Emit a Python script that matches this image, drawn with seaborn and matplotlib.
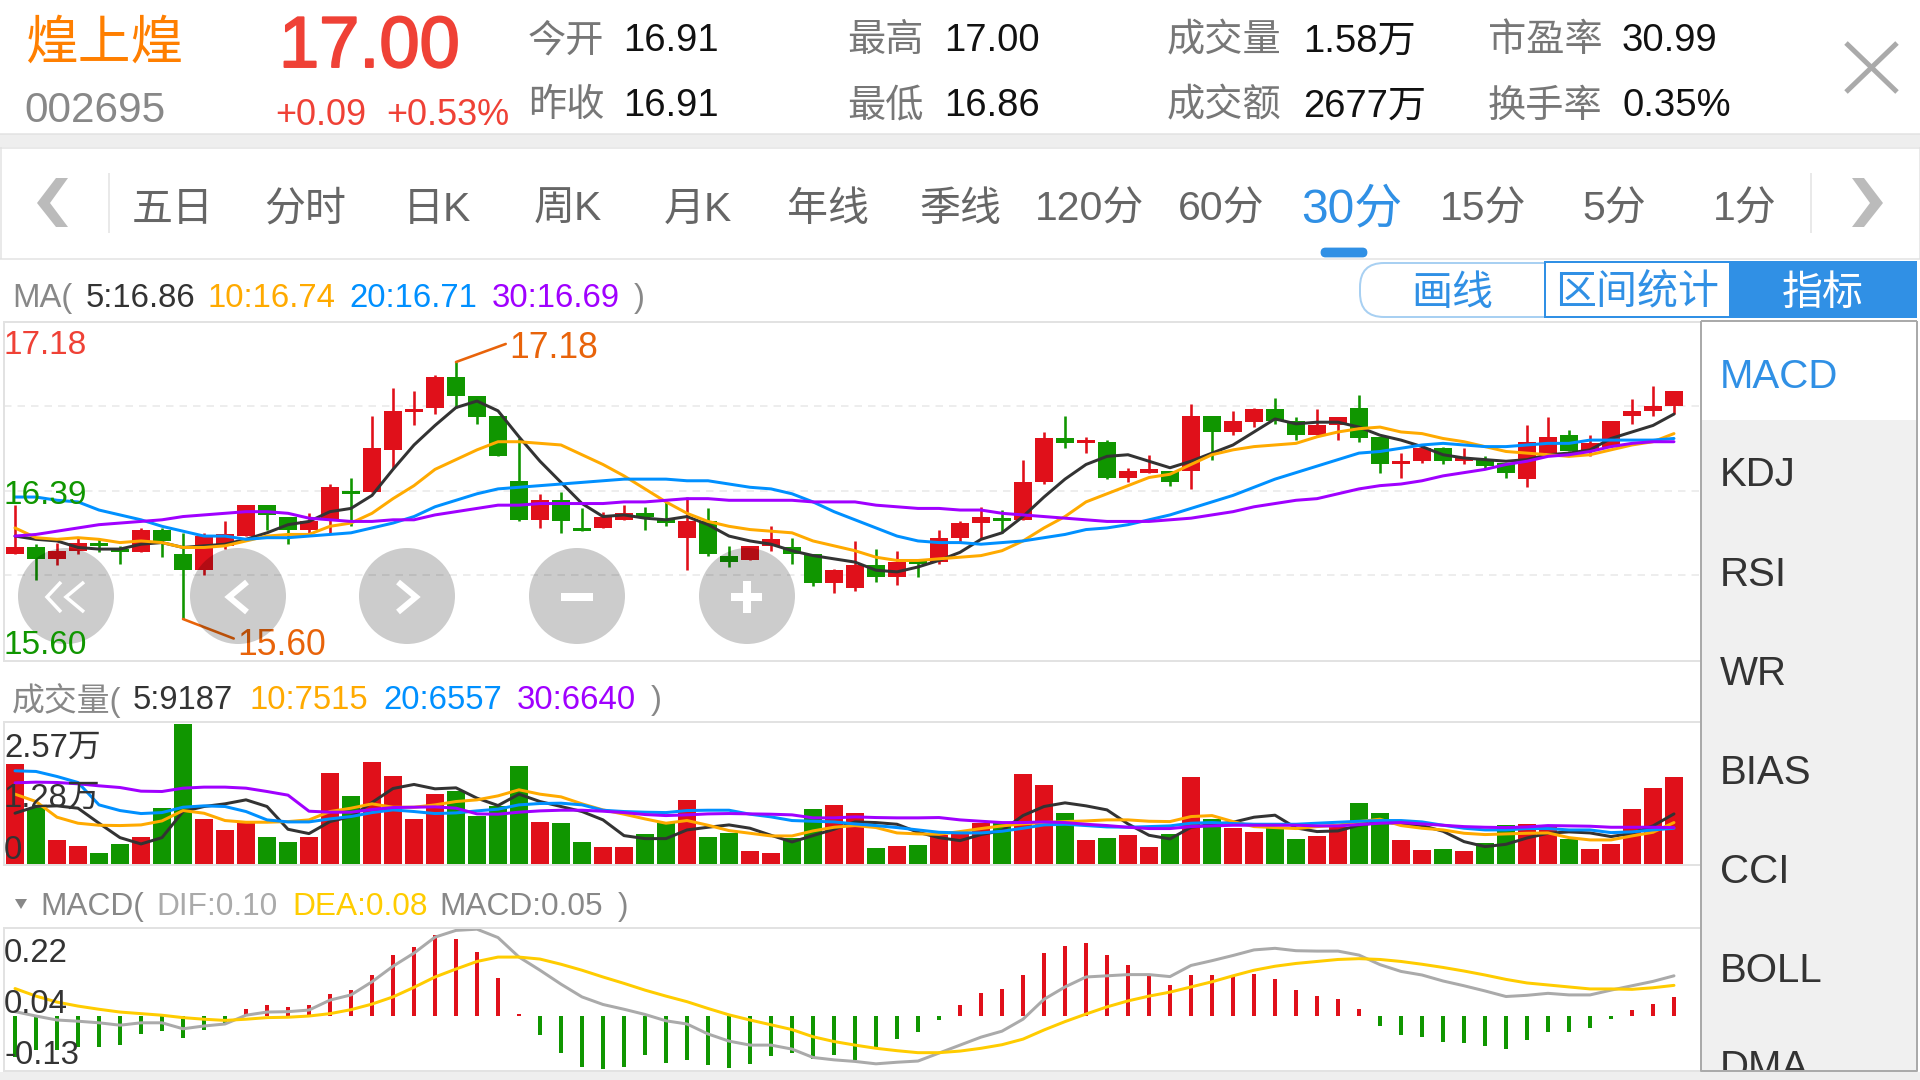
#!/usr/bin/env python
"""Stock quote screen: 30 minute candles, volume and MACD panels."""

import matplotlib
matplotlib.use("Agg")
import matplotlib.patheffects as pe
import matplotlib.pyplot as plt
from matplotlib.patches import Circle, FancyBboxPatch, Rectangle
import numpy as np
import seaborn as sns

sns.set_theme(style="white")
plt.rcParams["font.family"] = ["Liberation Sans", "Noto Sans CJK SC", "DejaVu Sans"]

W, H = 1920, 1080

# ── candles ──────────────────────────────────────────────────────────
opens = [16.00, 16.04, 15.97, 16.02, 16.07, 16.03, 16.01, 16.15, 16.00, 15.90,
         16.05, 16.11, 16.30, 16.23, 16.15, 16.21, 16.39, 16.38, 16.64, 16.87,
         16.90, 17.09, 16.97, 16.85, 16.45, 16.21, 16.33, 16.16, 16.16, 16.21,
         16.25, 16.21, 16.10, 16.20, 15.99, 15.96, 16.05, 16.04, 16.00, 15.82,
         15.79, 15.93, 15.86, 15.97, 15.95, 16.10, 16.19, 16.22, 16.21, 16.44,
         16.71, 16.68, 16.69, 16.47, 16.50, 16.51, 16.51, 16.85, 16.75, 16.81,
         16.89, 16.82, 16.73, 16.79, 16.90, 16.72, 16.55, 16.57, 16.65, 16.57,
         16.58, 16.56, 16.46, 16.62, 16.73, 16.64, 16.66, 16.85, 16.88, 16.91]
highs = [16.30, 16.06, 16.07, 16.10, 16.09, 16.05, 16.16, 16.16, 16.13, 16.13,
         16.20, 16.30, 16.30, 16.23, 16.25, 16.43, 16.47, 16.85, 17.02, 17.00,
         17.10, 17.18, 16.97, 16.85, 16.71, 16.37, 16.38, 16.28, 16.26, 16.30,
         16.29, 16.32, 16.35, 16.28, 16.05, 16.05, 16.17, 16.10, 16.00, 15.91,
         16.08, 16.03, 16.02, 15.97, 16.15, 16.20, 16.29, 16.27, 16.58, 16.75,
         16.85, 16.72, 16.70, 16.53, 16.61, 16.51, 16.92, 16.85, 16.88, 16.90,
         16.96, 16.84, 16.89, 16.84, 16.98, 16.72, 16.62, 16.67, 16.66, 16.65,
         16.60, 16.56, 16.79, 16.84, 16.76, 16.73, 16.82, 16.95, 17.03, 17.00]
lows = [16.00, 15.84, 15.93, 16.00, 16.01, 15.94, 16.01, 15.98, 15.60, 15.87,
        16.03, 16.11, 16.15, 16.06, 16.13, 16.13, 16.17, 16.38, 16.53, 16.79,
        16.86, 16.90, 16.80, 16.60, 16.20, 16.16, 16.13, 16.14, 16.16, 16.21,
        16.15, 16.17, 15.90, 15.99, 15.92, 15.96, 16.02, 15.94, 15.80, 15.76,
        15.77, 15.83, 15.81, 15.86, 15.94, 16.07, 16.10, 16.13, 16.21, 16.43,
        16.65, 16.62, 16.46, 16.44, 16.50, 16.42, 16.40, 16.58, 16.73, 16.78,
        16.80, 16.70, 16.73, 16.70, 16.69, 16.50, 16.47, 16.56, 16.55, 16.55,
        16.53, 16.47, 16.41, 16.62, 16.63, 16.60, 16.66, 16.80, 16.85, 16.86]
closes = [16.04, 15.97, 16.02, 16.07, 16.05, 16.01, 16.15, 16.08, 15.90, 16.11,
          16.12, 16.30, 16.24, 16.15, 16.20, 16.41, 16.37, 16.65, 16.88, 16.89,
          17.09, 16.97, 16.84, 16.60, 16.21, 16.33, 16.20, 16.14, 16.23, 16.25,
          16.23, 16.19, 16.20, 16.00, 15.95, 16.05, 16.09, 16.00, 15.82, 15.90,
          15.93, 15.86, 15.95, 15.94, 16.10, 16.19, 16.23, 16.20, 16.44, 16.71,
          16.68, 16.70, 16.47, 16.51, 16.52, 16.44, 16.85, 16.75, 16.82, 16.89,
          16.82, 16.73, 16.79, 16.84, 16.71, 16.55, 16.57, 16.65, 16.57, 16.59,
          16.54, 16.50, 16.69, 16.72, 16.63, 16.68, 16.82, 16.88, 16.91, 17.00]

ma5 = [16.11, 16.09, 16.08, 16.04, 16.03, 16.03, 16.06, 16.07, 16.04, 16.05,
       16.06, 16.09, 16.13, 16.18, 16.20, 16.26, 16.28, 16.36, 16.52, 16.67,
       16.79, 16.90, 16.94, 16.88, 16.72, 16.57, 16.44, 16.31, 16.23, 16.24,
       16.22, 16.21, 16.23, 16.18, 16.11, 16.08, 16.06, 16.02, 15.99, 15.97,
       15.95, 15.90, 15.89, 15.92, 15.96, 16.01, 16.09, 16.13, 16.23, 16.35,
       16.46, 16.55, 16.60, 16.61, 16.57, 16.53, 16.57, 16.62, 16.67, 16.75,
       16.83, 16.80, 16.81, 16.81, 16.78, 16.73, 16.70, 16.66, 16.61, 16.59,
       16.58, 16.57, 16.58, 16.61, 16.62, 16.64, 16.71, 16.75, 16.79, 16.86]
ma10 = [16.16, 16.10, 16.09, 16.10, 16.09, 16.07, 16.08, 16.07, 16.04, 16.04,
        16.05, 16.08, 16.11, 16.12, 16.12, 16.17, 16.19, 16.25, 16.34, 16.42,
        16.52, 16.58, 16.64, 16.69, 16.69, 16.68, 16.67, 16.61, 16.55, 16.48,
        16.40, 16.32, 16.25, 16.20, 16.17, 16.15, 16.14, 16.13, 16.08, 16.05,
        16.02, 15.98, 15.96, 15.96, 15.97, 15.98, 15.99, 16.02, 16.08, 16.16,
        16.23, 16.32, 16.37, 16.42, 16.47, 16.49, 16.55, 16.61, 16.64, 16.66,
        16.67, 16.68, 16.72, 16.75, 16.77, 16.78, 16.75, 16.74, 16.71, 16.69,
        16.66, 16.63, 16.62, 16.61, 16.60, 16.61, 16.64, 16.67, 16.69, 16.74]
ma20 = [16.35, 16.35, 16.33, 16.32, 16.27, 16.24, 16.21, 16.17, 16.14, 16.11,
        16.11, 16.09, 16.10, 16.10, 16.11, 16.12, 16.13, 16.16, 16.19, 16.23,
        16.29, 16.33, 16.37, 16.40, 16.41, 16.42, 16.43, 16.44, 16.45, 16.46,
        16.46, 16.46, 16.45, 16.45, 16.43, 16.41, 16.40, 16.37, 16.32, 16.26,
        16.21, 16.16, 16.11, 16.08, 16.07, 16.07, 16.06, 16.07, 16.08, 16.10,
        16.12, 16.15, 16.16, 16.18, 16.21, 16.24, 16.28, 16.32, 16.36, 16.41,
        16.46, 16.50, 16.54, 16.58, 16.62, 16.63, 16.65, 16.67, 16.68, 16.67,
        16.66, 16.66, 16.67, 16.68, 16.68, 16.70, 16.70, 16.70, 16.70, 16.71]
ma30 = [16.11, 16.12, 16.14, 16.16, 16.18, 16.19, 16.20, 16.21, 16.23, 16.24,
        16.25, 16.26, 16.26, 16.25, 16.22, 16.21, 16.20, 16.20, 16.21, 16.21,
        16.24, 16.26, 16.28, 16.30, 16.30, 16.31, 16.31, 16.31, 16.31, 16.32,
        16.32, 16.33, 16.34, 16.34, 16.33, 16.33, 16.33, 16.33, 16.32, 16.32,
        16.32, 16.30, 16.29, 16.28, 16.28, 16.27, 16.27, 16.25, 16.24, 16.23,
        16.22, 16.21, 16.20, 16.20, 16.20, 16.21, 16.22, 16.24, 16.26, 16.29,
        16.31, 16.33, 16.34, 16.37, 16.40, 16.42, 16.43, 16.45, 16.48, 16.50,
        16.52, 16.55, 16.57, 16.60, 16.61, 16.63, 16.66, 16.68, 16.69, 16.69]

# ── volume ───────────────────────────────────────────────────────────
volume = [18300, 10280, 4410, 3300, 2080, 3670, 4900, 10280, 25700, 8200,
          6240, 7470, 4900, 4040, 4960, 16650, 12480, 18600, 16160, 8320,
          12910, 13280, 8810, 10710, 17990, 7710, 7530, 3980, 3180, 3060,
          5450, 7590, 11750, 5020, 5750, 2390, 2020, 4710, 10160, 10830,
          9300, 2940, 3240, 3490, 5320, 5630, 7590, 7470, 16520, 14440,
          9300, 4350, 4710, 5320, 3120, 5510, 15970, 8200, 6670, 5880,
          6850, 4590, 5080, 6850, 11200, 9300, 4410, 2510, 2750, 2390,
          3790, 7160, 7280, 6850, 4590, 2750, 3670, 10100, 13950, 15850]
vol_ma5 = [9300, 10530, 10650, 10220, 7470, 4830, 3670, 4830, 9610, 10530,
           11020, 11750, 10530, 6360, 5570, 7770, 8690, 11260, 13830, 14570,
           13770, 13950, 12060, 10710, 12790, 11440, 10530, 9610, 8080, 5200,
           4650, 4650, 6240, 6730, 7160, 6550, 5260, 4040, 5200, 6360,
           7710, 7590, 7280, 5810, 4830, 4280, 5390, 6120, 8870, 10530,
           11200, 10650, 9910, 7340, 5260, 4590, 6730, 7220, 7650, 8570,
           8940, 6610, 5940, 6060, 7100, 7650, 7410, 7040, 6000, 4100,
           3180, 3610, 4770, 5630, 5880, 5690, 5020, 5630, 6980, 9180]
vol_ma10 = [12790, 11440, 8570, 7470, 7100, 7040, 7160, 7890, 9790, 9300,
            7960, 7650, 7650, 7770, 8080, 9610, 10220, 11020, 10400, 10400,
            10830, 11440, 11750, 12480, 13590, 12790, 12300, 11020, 9910, 9120,
            8260, 7470, 7960, 7100, 6120, 5630, 5140, 5140, 6060, 6730,
            7040, 6670, 5690, 5510, 5450, 5940, 6490, 6980, 7340, 7590,
            7770, 7890, 8080, 8080, 7830, 7770, 8690, 8870, 7770, 6850,
            6670, 6490, 6850, 7100, 7770, 8200, 7040, 6550, 6240, 5630,
            5390, 5510, 5630, 5690, 4830, 4410, 4410, 5140, 5810, 7590]
vol_ma20 = [17070, 16950, 16030, 14930, 10830, 9790, 9240, 9420, 10400, 10650,
            10530, 9610, 8080, 7710, 7710, 8260, 8690, 9420, 9910, 9610,
            9240, 9360, 9730, 10040, 10830, 11080, 11140, 10830, 9850, 9610,
            9490, 9420, 9790, 9850, 9850, 9120, 8630, 7960, 7830, 7710,
            7340, 7040, 6670, 6240, 5810, 5690, 5690, 6000, 6550, 7160,
            7280, 7040, 6790, 6730, 6850, 6980, 7470, 7590, 7410, 7280,
            7280, 7280, 7470, 7650, 7830, 7960, 7960, 7710, 7100, 6550,
            6240, 6240, 6490, 6490, 6240, 6240, 5750, 5880, 6240, 6550]
vol_ma30 = [14870, 14990, 14930, 14690, 14320, 14010, 13340, 13280, 13890, 14080,
            14080, 13890, 13280, 12610, 9670, 9490, 9490, 9980, 10340, 10400,
            10470, 10220, 9180, 9120, 9490, 9730, 9850, 9850, 9670, 9420,
            9060, 8870, 9000, 9180, 9240, 9180, 9120, 9000, 8450, 8450,
            8630, 8510, 8450, 8450, 8510, 8080, 7830, 7590, 7590, 7710,
            7590, 7280, 7040, 6730, 6490, 6490, 6850, 6980, 7100, 7100,
            7100, 7100, 6980, 6980, 7220, 7470, 7590, 7340, 7100, 6850,
            6730, 6670, 6790, 7040, 6980, 6920, 6730, 6730, 6730, 6670]

# ── MACD ─────────────────────────────────────────────────────────────
macd = [-.102, -.085, -.085, -.077, -.078, -.072, -.046, -.038, -.054, -.034,
        -.018, .017, .027, .023, .027, .056, .066, .104, .152, .174,
        .204, .194, .160, .096, .004, -.048, -.094, -.129, -.132, -.129,
        -.097, -.118, -.110, -.122, -.131, -.120, -.100, -.094, -.108, -.098,
        -.110, -.078, -.057, -.041, -.010, .028, .057, .068, .104, .157,
        .177, .184, .153, .128, .104, .077, .104, .104, .104, .106,
        .093, .065, .050, .043, .017, -.024, -.048, -.052, -.064, -.068,
        -.076, -.083, -.061, -.041, -.041, -.031, -.008, .015, .030, .048]
dif = [.011, .000, -.010, -.013, -.017, -.023, -.017, -.017, -.032, -.025,
       -.020, .002, .010, .011, .015, .040, .053, .086, .125, .158,
       .198, .215, .218, .197, .148, .115, .080, .048, .029, .017,
       .004, -.012, -.020, -.045, -.063, -.073, -.073, -.083, -.104, -.110,
       -.114, -.120, -.116, -.113, -.093, -.073, -.053, -.038, -.008, .042,
       .073, .098, .101, .104, .104, .099, .127, .139, .152, .166,
       .170, .164, .163, .163, .153, .129, .112, .103, .088, .076,
       .063, .049, .052, .057, .053, .053, .065, .076, .087, .101]
dea = [.069, .050, .035, .025, .017, .010, .006, .002, -.004, -.008,
       -.011, -.008, -.004, -.003, .000, .006, .016, .030, .048, .072,
       .098, .118, .137, .148, .148, .143, .130, .115, .098, .082,
       .065, .050, .036, .019, .003, -.010, -.022, -.034, -.052, -.064,
       -.073, -.081, -.087, -.092, -.092, -.088, -.081, -.072, -.058, -.035,
       -.014, .005, .023, .038, .050, .060, .073, .086, .101, .115,
       .125, .132, .137, .142, .144, .142, .137, .130, .122, .113,
       .103, .092, .083, .078, .073, .068, .068, .067, .071, .077]

# ── screen text ──────────────────────────────────────────────────────
tabs = ["五日", "分时", "日K", "周K", "月K", "年线", "季线", "120分", "60分", "30分", "15分", "5分", "1分"]
indicators = ["MACD", "KDJ", "RSI", "WR", "BIAS", "CCI", "BOLL", "DMA"]

RED = "#e0101a"
GREEN = "#109600"
BLACK = "#333333"
ORANGE = "#ffaa00"
BLUE = "#0090ff"
PURPLE = "#a000ff"
TAB_BLUE = "#3090e5"
GRAY = "#888888"
MARK = "#e8630a"
LINE = "#e2e2e2"
PX = 0.72  # one pixel in points at dpi 100


def px_axes(fig, left, top, right, bottom):
    ax = fig.add_axes([left / W, 1 - bottom / H, (right - left) / W, (bottom - top) / H])
    ax.patch.set_alpha(0)
    for s in ax.spines.values():
        s.set_color(LINE)
        s.set_linewidth(2 * PX)
    ax.set_xlim(XLIM)
    return ax


def finish(ax, ylim):
    ax.set_xlim(XLIM)
    ax.set_ylim(ylim)
    ax.set_xlabel("")
    ax.set_ylabel("")
    ax.set_xticks([])
    ax.tick_params(left=False, labelleft=False, bottom=False)


def draw_lines(ax, idx, series, lw=3.0):
    for values, color in series:
        sns.lineplot(x=idx, y=values, ax=ax, color=color, linewidth=lw * PX, errorbar=None)


idx = np.arange(len(closes))
XLIM = ((4 - 15) / 21, (1701 - 15) / 21)

fig = plt.figure(figsize=(W / 100, H / 100), dpi=100, facecolor="white")

# price panel
ax = px_axes(fig, 4, 322, 1701, 661)
up = np.array(closes) >= np.array(opens)
colors = [RED if u else GREEN for u in up]
ax.vlines(idx, lows, highs, colors=colors, linewidth=2.6 * PX)
ax.bar(idx, np.abs(np.array(closes) - np.array(opens)), bottom=np.minimum(opens, closes),
       width=18 / 21, color=colors, linewidth=0)
draw_lines(ax, idx, [(ma5, BLACK), (ma10, ORANGE), (ma20, BLUE), (ma30, PURPLE)])
finish(ax, (15.342, 17.426))
ax.set_yticks([15.87, 16.39, 16.91])
ax.set_axisbelow(True)
ax.grid(axis="y", color="#e8e8e8", linewidth=1.5 * PX, linestyle=(0, (5, 4)))
ax.annotate("17.18", xy=(21, 17.18), xytext=(53, 14), textcoords="offset pixels", color=MARK,
            fontsize=25.6, ha="left", va="center",
            arrowprops=dict(arrowstyle="-", color=MARK, lw=2.6 * PX, shrinkA=0, shrinkB=0, relpos=(0, 0.65)))
ax.annotate("15.60", xy=(8, 15.60), xytext=(54, -26), textcoords="offset pixels", color=MARK,
            fontsize=25.6, ha="left", va="center",
            arrowprops=dict(arrowstyle="-", color=MARK, lw=2.6 * PX, shrinkA=0, shrinkB=0, relpos=(0, 0.65)))

# volume panel
ax = px_axes(fig, 4, 722, 1701, 865)
sns.barplot(x=idx, y=volume, hue=colors, palette={RED: RED, GREEN: GREEN}, native_scale=True,
            width=18 / 21, dodge=False, legend=False, saturation=1, linewidth=0, ax=ax)
draw_lines(ax, idx, [(vol_ma5, BLACK), (vol_ma10, ORANGE), (vol_ma20, BLUE), (vol_ma30, PURPLE)])
finish(ax, (-184, 26010))
ax.set_yticks([])

# MACD panel
ax = px_axes(fig, 4, 928, 1701, 1071)
macd_colors = [RED if v > 0 else GREEN for v in macd]
sns.barplot(x=idx, y=macd, hue=macd_colors, palette={RED: RED, GREEN: GREEN}, native_scale=True,
            width=4.2 / 21, dodge=False, legend=False, saturation=1, linewidth=0, ax=ax)
draw_lines(ax, idx, [(dif, "#aaaaaa"), (dea, "#ffcc00")])
finish(ax, (-.138, .221))
ax.set_yticks([])

# everything around the panels, in screen pixels
ui = fig.add_axes([0, 0, 1, 1], zorder=5)
ui.set_xlim(0, W)
ui.set_ylim(H, 0)
ui.axis("off")


def txt(x, y, s, size, color, ha="left", **kw):
    # va=center sits on the line box, so push the glyphs back down a little
    return ui.text(x, y + size * 0.125, s, fontsize=size, color=color, ha=ha, va="center", **kw)


def rect(x0, y0, x1, y1, fc, ec="none", lw=0, z=1):
    ui.add_patch(Rectangle((x0, y0), x1 - x0, y1 - y0, facecolor=fc, edgecolor=ec, linewidth=lw * PX, zorder=z))


def stroke(xs, ys, color, lw):
    ui.plot(xs, ys, color=color, linewidth=lw * PX, solid_capstyle="butt", solid_joinstyle="miter")


# header
txt(25, 40, "煌上煌", 38, "#ff7f00")
txt(24, 107, "002695", 30.5, GRAY)
big = txt(279, 42, "17.00", 52, "#ef4136")
big.set_path_effects([pe.withStroke(linewidth=1.4, foreground="#ef4136")])
txt(275, 112, "+0.09", 26, "#ef4136")
txt(386, 112, "+0.53%", 26, "#ef4136")
for x0, x1, rows in [(528, 623, (("今开", "16.91"), ("昨收", "16.91"))),
                     (847, 944, (("最高", "17.00"), ("最低", "16.86"))),
                     (1167, 1303, (("成交量", "1.58万"), ("成交额", "2677万"))),
                     (1488, 1622, (("市盈率", "30.99"), ("换手率", "0.35%")))]:
    for y, (name, value) in zip((38, 103), rows):
        txt(x0, y, name, 27.5, "#777777")
        txt(x1, y, value, 27.5, "#111111")
stroke([1846, 1897], [43, 92], "#aaaaaa", 5)
stroke([1846, 1897], [92, 43], "#aaaaaa", 5)

# tab bar
rect(0, 134, W, 147, "#eeeeee")
stroke([0, W], [134, 134], LINE, 1.5)
stroke([0, W], [147.5, 147.5], LINE, 1.5)
stroke([0, W], [259, 259], LINE, 1.5)
stroke([0.5, 0.5], [147, 259], LINE, 1.5)
stroke([1919.5, 1919.5], [147, 259], LINE, 1.5)
stroke([108.5, 108.5], [173, 233], LINE, 1.5)
stroke([1811, 1811], [173, 233], LINE, 1.5)
ui.fill([56, 68, 50, 68, 56, 37], [178, 178, 203, 227, 227, 203], color="#bbbbbb", linewidth=0)
ui.fill([1864, 1852, 1870, 1852, 1864, 1883], [178, 178, 203, 227, 227, 203], color="#bbbbbb", linewidth=0)
for cx, name in zip([173, 305, 437, 568, 698, 828, 960, 1090, 1221, 1352, 1483, 1614, 1745], tabs):
    if name == "30分":
        txt(cx, 206, name, 34.5, TAB_BLUE, ha="center")
    else:
        txt(cx, 206, name, 29.5, "#666666", ha="center")
ui.add_patch(FancyBboxPatch((1322, 249), 44, 7, boxstyle="round,pad=0,rounding_size=3.5",
                            facecolor=TAB_BLUE, edgecolor=TAB_BLUE, linewidth=2))

# MA legend row
txt(12, 296, "MA(", 23.7, GRAY)
txt(86, 296, "5:16.86", 23.7, BLACK)
txt(208, 296, "10:16.74", 23.7, ORANGE)
txt(349, 296, "20:16.71", 23.7, BLUE)
txt(492, 296, "30:16.69", 23.7, PURPLE)
txt(634, 296, ")", 23.7, GRAY)

# draw / stats / indicator buttons
ui.add_patch(FancyBboxPatch((1360, 263), 215, 54, boxstyle="round,pad=0,rounding_size=24",
                            facecolor="white", edgecolor="#a8d0f2", linewidth=2 * PX, zorder=1))
rect(1545, 262, 1730, 317, "white", TAB_BLUE, 2, z=2)
rect(1730, 261, 1917, 318, TAB_BLUE, z=2)
txt(1452, 290, "画线", 29.5, TAB_BLUE, ha="center", zorder=3)
txt(1637, 290, "区间统计", 29.5, TAB_BLUE, ha="center", zorder=3)
txt(1823, 290, "指标", 29.5, "white", ha="center", zorder=3)

# price axis labels
txt(4, 343, "17.18", 24, "#ef4136")
txt(4, 493, "16.39", 24, GREEN)
txt(4, 642, "15.60", 24, GREEN)

# zoom / scroll buttons over the candles
for cx in (66, 238, 407, 577, 747):
    ui.add_patch(Circle((cx, 596), 48, facecolor="black", alpha=0.2, linewidth=0))
for tip, end in ((47, 61), (66, 84)):
    stroke([end, tip, end], [582, 597, 612], "white", 3.5)
stroke([247, 229, 247], [582, 597, 612], "white", 6)
stroke([398, 416, 398], [582, 597, 612], "white", 6)
stroke([561, 593], [597, 597], "white", 8)
stroke([731, 762], [597, 597], "white", 8)
stroke([747, 747], [581, 613], "white", 8)

# volume labels
txt(12, 698, "成交量(", 23.7, GRAY)
txt(133, 698, "5:9187", 23.7, BLACK)
txt(250, 698, "10:7515", 23.7, ORANGE)
txt(383, 698, "20:6557", 23.7, BLUE)
txt(517, 698, "30:6640", 23.7, PURPLE)
txt(651, 698, ")", 23.7, GRAY)
txt(4, 745, "2.57万", 23.7, BLACK)
txt(4, 795, "1.28万", 23.7, BLACK)
txt(4, 848, "0", 23.7, BLACK)

# MACD labels
ui.fill([15, 27, 21], [899, 899, 909], color=GRAY, linewidth=0)
txt(40.5, 904, "MACD(", 22.8, GRAY)
txt(156.5, 904, "DIF:0.10", 22.8, "#aaaaaa")
txt(292.5, 904, "DEA:0.08", 22.8, "#ffcc00")
txt(439, 904, "MACD:0.05", 22.8, GRAY)
txt(618, 904, ")", 22.8, GRAY)
txt(4, 951, "0.22", 23.7, BLACK)
txt(4, 1002, "0.04", 23.7, BLACK)
txt(4, 1053, "-0.13", 23.7, BLACK)

# indicator side list
rect(1701, 321, 1917, 420, "white", z=1)
rect(1701, 420, 1917, 1071, "#f0f0f0", z=1)
for y, name in zip([373, 471, 571, 670, 769, 868, 967, 1064], indicators):
    txt(1720, y, name, 29, TAB_BLUE if name == "MACD" else BLACK, zorder=2)
rect(0, 1071.5, W, H, "#eeeeee", z=3)
stroke([1701, 1701], [321, 1071], "#aaaaaa", 2)
stroke([1701, 1917], [321, 321], "#aaaaaa", 2)
stroke([1917, 1917], [321, 1071], "#aaaaaa", 2)
ui.plot([1701, 1917], [1071, 1071], color="#aaaaaa", linewidth=2 * PX, zorder=4)

fig.savefig("out.png", dpi=100)
